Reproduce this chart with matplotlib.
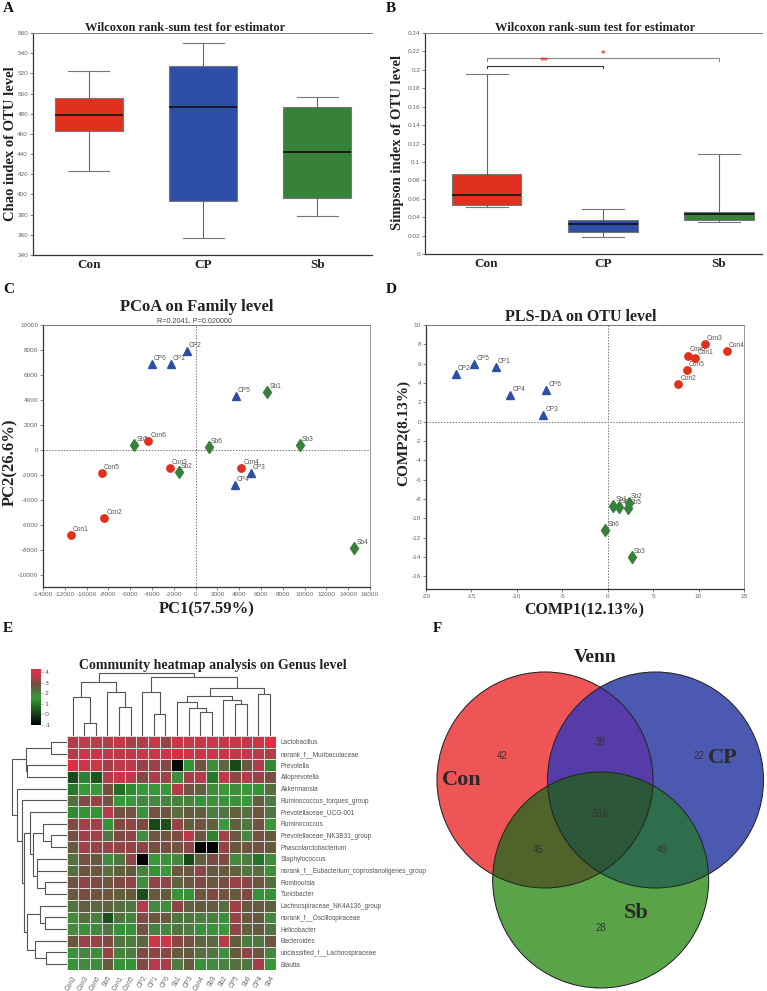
import numpy as np
import matplotlib
matplotlib.use('Agg')
import matplotlib.pyplot as plt
from matplotlib.colors import LinearSegmentedColormap, to_rgba
from matplotlib.patches import Circle
from matplotlib.ticker import MultipleLocator, FuncFormatter

plt.rcParams['axes.unicode_minus'] = False

W, H = 767, 991
SERIF = 'Liberation Serif'
SANS = 'Liberation Sans'
TICK_C = '#666666'

# ---------------- data ----------------
groups = ['Con', 'CP', 'Sb']
group_colors = ['#e2301f', '#2f4ea6', '#37813a']

# A: Chao index boxplot stats
chao_lo = [423.7, 356.9, 378.4]
chao_q1 = [462.7, 394.0, 396.6]
chao_med = [478.3, 486.2, 441.6]
chao_q3 = [495.2, 527.3, 486.2]
chao_hi = [522.6, 550.4, 496.8]

# B: Simpson index boxplot stats
simp_lo = [0.0509, 0.0182, 0.0349]
simp_q1 = [0.0535, 0.0240, 0.0367]
simp_med = [0.0644, 0.0327, 0.0436]
simp_q3 = [0.0873, 0.0364, 0.0455]
simp_hi = [0.1960, 0.0490, 0.1087]
sig_i = [0, 0]
sig_j = [1, 2]
sig_y = [0.2047, 0.2124]
sig_txt = ['**', '*']

# C: PCoA (family level)
pcoa_con_x = [-11470, -8380, -2385, 4190, -8620, -4340]
pcoa_con_y = [-6835, -5480, -1490, -1490, -1835, 690]
pcoa_cp_x = [-2260, -800, 5046, 3610, 3700, -4000]
pcoa_cp_y = [6890, 7900, -1835, -2820, 4280, 6900]
pcoa_sb_x = [6575, -1530, 9570, 14560, -5630, 1220]
pcoa_sb_y = [4630, -1780, 350, -7850, 370, 210]

# D: PLS-DA (OTU level)
pls_con_x = [9.63, 7.77, 10.7, 13.1, 8.68, 8.80]
pls_con_y = [6.56, 3.94, 8.05, 7.29, 5.32, 6.84]
pls_cp_x = [-12.3, -16.7, -7.07, -10.7, -14.7, -6.78]
pls_cp_y = [5.66, 4.97, 0.73, 2.73, 6.00, 3.25]
pls_sb_x = [0.62, 2.34, 2.67, 1.20, 2.23, -0.26]
pls_sb_y = [-8.67, -8.36, -13.98, -8.84, -8.90, -11.19]

# E: heatmap
samples = ['Con2', 'Con3', 'Con6', 'Sb5', 'Con1', 'Con5', 'CP2', 'CP1', 'CP6',
           'Sb1', 'CP3', 'Con4', 'Sb3', 'Sb2', 'CP5', 'Sb6', 'CP4', 'Sb4']
genera = ['Lactobacillus', 'norank_f__Muribaculaceae', 'Prevotella', 'Alloprevotella',
          'Akkermansia', 'Ruminococcus_torques_group', 'Prevotellaceae_UCG-001',
          'Ruminococcus', 'Prevotellaceae_NK3B31_group', 'Phascolarctobacterium',
          'Staphylococcus', 'norank_f__Eubacterium_coprostanoligenes_group', 'Romboutsia',
          'Turicibacter', 'Lachnospiraceae_NK4A136_group', 'norank_f__Oscillospiraceae',
          'Helicobacter', 'Bacteroides', 'unclassified_f__Lachnospiraceae', 'Blautia']
heat_values = [
    [3.5, 3.7, 3.6, 3.5, 3.7, 3.4, 3.5, 3.7, 3.2, 3.8, 3.7, 3.8, 3.8, 3.7, 3.7, 3.7, 3.8, 4.1],
    [3.5, 3.8, 3.8, 3.6, 3.6, 3.6, 3.8, 3.8, 3.8, 3.9, 3.8, 3.8, 3.8, 3.8, 3.6, 3.7, 3.6, 3.5],
    [4.1, 3.8, 3.8, 3.3, 3.6, 3.6, 3.2, 3.2, 3.0, -0.8, 1.5, 2.8, 1.8, 2.4, 0.2, 2.6, 3.4, 1.3],
    [0.2, 1.2, 0.4, 3.5, 3.8, 3.6, 3.0, 3.4, 3.3, 1.8, 3.3, 3.5, 1.0, 3.7, 3.1, 3.5, 3.2, 2.9],
    [1.0, 1.6, 1.6, 2.9, 0.8, 1.3, 1.6, 1.6, 1.6, 3.5, 2.8, 2.5, 1.8, 1.6, 1.8, 1.6, 1.5, 2.3],
    [2.3, 3.0, 3.2, 2.8, 1.6, 1.6, 1.9, 1.8, 2.0, 2.0, 2.0, 1.5, 1.7, 1.7, 1.7, 1.6, 2.5, 2.1],
    [1.3, 1.5, 1.5, 3.5, 2.8, 2.8, 1.7, 2.8, 2.7, 2.3, 2.6, 2.5, 2.1, 2.2, 2.5, 2.3, 2.7, 2.2],
    [3.0, 3.3, 3.3, 1.5, 3.0, 3.1, 3.0, 0.2, 0.3, 3.2, 2.5, 2.8, 2.5, 1.6, 2.5, 2.2, 2.8, 1.6],
    [2.9, 3.3, 3.3, 2.2, 3.0, 3.1, 1.8, 2.7, 2.7, 3.0, 3.6, 2.7, 1.2, 3.3, 2.7, 1.9, 2.8, 2.6],
    [2.6, 3.3, 3.2, 3.2, 3.1, 3.2, 3.1, 2.9, 2.9, 2.8, 3.1, -1.0, -1.0, 3.2, 2.7, 2.7, 2.8, 2.6],
    [2.3, 2.8, 2.6, 1.8, 2.2, 3.1, -1.0, 1.6, 1.7, 1.9, 0.2, 2.5, 2.9, 3.0, 1.9, 2.1, 0.9, 1.8],
    [2.3, 2.7, 2.7, 2.3, 2.5, 2.6, 2.0, 1.5, 1.6, 2.7, 2.7, 3.1, 2.6, 2.6, 2.5, 2.2, 2.3, 1.7],
    [2.8, 3.1, 3.0, 2.7, 3.0, 3.1, 1.8, 3.1, 3.1, 2.4, 2.7, 3.0, 2.7, 2.9, 3.2, 3.1, 2.7, 2.3],
    [2.6, 2.9, 2.8, 2.7, 2.5, 2.6, 0.3, 2.6, 2.6, 1.7, 1.5, 2.7, 3.0, 2.8, 2.6, 3.0, 1.5, 1.5],
    [2.2, 2.5, 2.4, 2.5, 2.3, 2.2, 3.5, 1.9, 1.8, 3.1, 2.5, 2.6, 2.6, 2.3, 3.3, 2.6, 2.6, 2.5],
    [1.8, 2.3, 2.1, 0.3, 2.2, 2.0, 3.0, 2.7, 2.6, 2.2, 2.2, 2.1, 2.1, 1.5, 3.2, 2.6, 2.6, 1.9],
    [1.8, 1.7, 1.9, 2.2, 1.5, 1.5, 2.8, 2.0, 1.9, 2.2, 2.1, 1.5, 1.7, 1.6, 3.1, 2.5, 2.6, 2.2],
    [2.7, 3.2, 3.2, 3.0, 2.2, 2.1, 2.4, 3.8, 3.8, 3.1, 2.8, 2.4, 2.4, 3.5, 2.6, 2.1, 2.2, 2.8],
    [1.7, 2.0, 1.8, 3.2, 2.0, 2.1, 3.0, 3.1, 3.1, 2.6, 2.6, 2.3, 2.2, 1.7, 2.6, 3.1, 2.7, 1.9],
    [1.7, 1.9, 1.8, 2.6, 1.5, 1.5, 3.0, 3.5, 3.3, 2.1, 2.6, 1.5, 1.9, 2.0, 2.3, 2.2, 3.3, 1.6],
]
# dendrograms: (merge height, left, right); ints are leaf indices
col_tree = (188,
            (163, (118, 0, (40, 1, 2)), (133, 3, (86, 4, 5))),
            (176, (133, 6, (65, 7, 8)),
             (145, (120, (103, 9, (83, 10, (73, 11, 12))), (108, 13, (96, 14, 15))),
              (125, 16, 17))))
row_tree = (165,
            (122, (47, 0, 1), (118, 2, 3)),
            (148, 4, (135, 5, (128,
                                (110, 6, (100, (70, 7, (47, 8, 9)), (90, (88, 10, 11), (64, 12, 13)))),
                                (120, (80, 14, (64, 15, 16)), (95, 17, (62, 18, 19)))))))

# F: Venn
venn_sets = ['Con', 'CP', 'Sb']
venn_codes = [1, 2, 4, 3, 5, 6, 7]
venn_counts = [42, 22, 28, 38, 45, 49, 516]


# ---------------- helpers ----------------
fig = plt.figure(figsize=(W / 100, H / 100), dpi=100)


def add_ax(l, t, r, b):
    return fig.add_axes([l / W, 1 - b / H, (r - l) / W, (b - t) / H])


def ftext(x, y, s, **kw):
    fig.text(x / W, 1 - y / H, s, **kw)


def style_axes(ax, full_box=False):
    for side in ['left', 'bottom']:
        ax.spines[side].set_color('#333333')
        ax.spines[side].set_linewidth(0.9)
    ax.spines['top'].set_color('#777777')
    ax.spines['top'].set_linewidth(0.7)
    ax.spines['right'].set_visible(full_box)
    ax.spines['right'].set_color('#999999')
    ax.spines['right'].set_linewidth(0.7)
    ax.tick_params(direction='out', length=2, width=0.5, color='#555555',
                   labelsize=4.6, labelcolor=TICK_C, pad=1.5)
    for lab in ax.get_xticklabels() + ax.get_yticklabels():
        lab.set_family(SANS)


def boxpanel(ax, lo, q1, med, q3, hi):
    stats = [dict(med=med[k], q1=q1[k], q3=q3[k], whislo=lo[k], whishi=hi[k], fliers=[])
             for k in range(len(groups))]
    bp = ax.bxp(stats, positions=[1, 2, 3], widths=0.6, capwidths=0.36, patch_artist=True,
                showfliers=False,
                boxprops=dict(edgecolor='#777777', linewidth=0.8),
                medianprops=dict(color='#111111', linewidth=1.2),
                whiskerprops=dict(color='#666666', linewidth=0.8),
                capprops=dict(color='#777777', linewidth=0.8))
    for patch, c in zip(bp['boxes'], group_colors):
        patch.set_facecolor(c)
    ax.set_xticks([1, 2, 3])
    ax.set_xticklabels(groups)
    style_axes(ax)
    for lab in ax.get_xticklabels():
        lab.set_family(SERIF)
        lab.set_fontweight('bold')
        lab.set_fontsize(9.5)
        lab.set_color('#222222')
    ax.tick_params(axis='x', length=0, pad=3)


# ---------------- A ----------------
axA = add_ax(33, 33, 372, 255)
boxpanel(axA, chao_lo, chao_q1, chao_med, chao_q3, chao_hi)
axA.set_xlim(0.51, 3.48)
axA.set_ylim(340, 560)
axA.yaxis.set_major_locator(MultipleLocator(20))
for lab in axA.get_yticklabels():
    lab.set_family(SANS)
ftext(185, 28, 'Wilcoxon rank-sum test for estimator', family=SERIF, weight='bold',
      fontsize=9, ha='center', va='center', color='#222222')
ftext(11, 144, 'Chao index of OTU level', family=SERIF, weight='bold', fontsize=10.5,
      rotation=90, ha='center', va='center', color='#222222')

# ---------------- B ----------------
axB = add_ax(425, 33, 762, 254)
boxpanel(axB, simp_lo, simp_q1, simp_med, simp_q3, simp_hi)
axB.set_xlim(0.47, 3.37)
axB.set_ylim(0, 0.24)
axB.yaxis.set_major_locator(MultipleLocator(0.02))
axB.yaxis.set_major_formatter(FuncFormatter(lambda v, p: '%g' % round(v, 2)))
for lab in axB.get_yticklabels():
    lab.set_family(SANS)
for i, j, yv, s, lc in zip(sig_i, sig_j, sig_y, sig_txt, ['#333333', '#888888']):
    axB.plot([i + 1, i + 1, j + 1, j + 1], [yv - 0.003, yv, yv, yv - 0.003], color=lc, lw=0.8)
    axB.text((i + j) / 2 + 1, yv - 0.001, s, color='#ee3333', fontsize=6, ha='center',
             va='bottom', weight='bold')
ftext(595, 28, 'Wilcoxon rank-sum test for estimator', family=SERIF, weight='bold',
      fontsize=9, ha='center', va='center', color='#222222')
ftext(397, 142, 'Simpson index of OTU level', family=SERIF, weight='bold', fontsize=10.5,
      rotation=90, ha='center', va='center', color='#222222')


# ---------------- scatter panels ----------------
def scatter_panel(ax, xs, ys):
    markers = ['o', '^', 'd']
    sizes = [5.3, 6.3, 6.0]
    for g, c, m, ms, x, y in zip(groups, group_colors, markers, sizes, xs, ys):
        ax.plot(x, y, ls='none', marker=m, ms=ms, color=c, mec=c, zorder=3)
        for k in range(len(x)):
            ax.annotate('%s%d' % (g, k + 1), (x[k], y[k]), xytext=(1.5, 1.5),
                        textcoords='offset points', fontsize=4.8, color='#555555',
                        family=SANS, ha='left', va='bottom', zorder=2)
    ax.axhline(0, color='#777777', lw=0.7, ls=(0, (1.5, 1.5)), zorder=1)
    ax.axvline(0, color='#777777', lw=0.7, ls=(0, (1.5, 1.5)), zorder=1)
    style_axes(ax, full_box=True)


axC = add_ax(43, 325, 370, 587)
scatter_panel(axC, [pcoa_con_x, pcoa_cp_x, pcoa_sb_x], [pcoa_con_y, pcoa_cp_y, pcoa_sb_y])
axC.set_xlim(-14000, 16000)
axC.set_ylim(-11000, 10000)
axC.xaxis.set_major_locator(MultipleLocator(2000))
axC.yaxis.set_major_locator(MultipleLocator(2000))
for lab in axC.get_xticklabels() + axC.get_yticklabels():
    lab.set_family(SANS)
ftext(197, 307, 'PCoA on Family level', family=SERIF, weight='bold', fontsize=12,
      ha='center', va='center', color='#222222')
ftext(194, 321, 'R=0.2041, P=0.020000', family=SANS, fontsize=5.2, ha='center',
      va='center', color='#444444')
ftext(207, 609, 'PC1(57.59%)', family=SERIF, weight='bold', fontsize=12,
      ha='center', va='center', color='#222222')
ftext(10, 462, 'PC2(26.6%)', family=SERIF, weight='bold', fontsize=12, rotation=90,
      ha='center', va='center', color='#222222')

axD = add_ax(426, 325, 744, 589)
scatter_panel(axD, [pls_con_x, pls_cp_x, pls_sb_x], [pls_con_y, pls_cp_y, pls_sb_y])
axD.set_xlim(-20, 15)
axD.set_ylim(-17.3, 10)
axD.xaxis.set_major_locator(MultipleLocator(5))
axD.yaxis.set_major_locator(MultipleLocator(2))
for lab in axD.get_xticklabels() + axD.get_yticklabels():
    lab.set_family(SANS)
ftext(581, 317, 'PLS-DA on OTU level', family=SERIF, weight='bold', fontsize=11.5,
      ha='center', va='center', color='#222222')
ftext(584, 610, 'COMP1(12.13%)', family=SERIF, weight='bold', fontsize=11.5,
      ha='center', va='center', color='#222222')
ftext(404, 433, 'COMP2(8.13%)', family=SERIF, weight='bold', fontsize=11, rotation=90,
      ha='center', va='center', color='#222222')

# ---------------- E: heatmap ----------------
cmap = LinearSegmentedColormap.from_list('heat', [
    (0.0, '#000000'), (1 / 5.3, '#163c16'), (1.8 / 5.3, '#246e24'), (2.6 / 5.3, '#38983a'),
    (3.1 / 5.3, '#4c7c40'), (3.6 / 5.3, '#665a3e'), (4.0 / 5.3, '#7e4a42'),
    (4.3 / 5.3, '#a2404a'), (4.7 / 5.3, '#c4384a'), (1.0, '#ee2a40')])

axE = add_ax(66.7, 736, 275.7, 970)
mesh = axE.pcolormesh(np.array(heat_values), cmap=cmap, vmin=-1, vmax=4.3,
                      edgecolors='#dcdcdc', linewidth=0.4)
axE.set_xlim(0, len(samples))
axE.set_ylim(len(genera), 0)
for s in axE.spines.values():
    s.set_visible(False)
axE.yaxis.set_ticks_position('right')
axE.set_yticks(np.arange(len(genera)) + 0.5)
axE.set_yticklabels(genera, fontsize=4.7, color='#555555', family=SANS)
axE.set_xticks(np.arange(len(samples)) + 0.5)
axE.set_xticklabels(samples, fontsize=4.7, color='#666666', family=SANS, rotation=60,
                    ha='right', rotation_mode='anchor')
axE.tick_params(length=0, pad=3.5)


def draw_tree(ax, node, horizontal):
    if isinstance(node, int):
        return node + 0.5, 0
    h, left, right = node
    p1, h1 = draw_tree(ax, left, horizontal)
    p2, h2 = draw_tree(ax, right, horizontal)
    pos = [p1, p1, p2, p2]
    hts = [h1, h, h, h2]
    if horizontal:
        ax.plot(hts, pos, color='#555555', lw=0.8, solid_capstyle='butt')
    else:
        ax.plot(pos, hts, color='#555555', lw=0.8, solid_capstyle='butt')
    return (p1 + p2) / 2, h


axCol = add_ax(66.7, 672, 275.7, 736)
draw_tree(axCol, col_tree, False)
axCol.set_xlim(0, len(samples))
axCol.set_ylim(0, 192)
axCol.axis('off')

axRow = add_ax(10, 736, 66.7, 970)
draw_tree(axRow, row_tree, True)
axRow.set_ylim(len(genera), 0)
axRow.set_xlim(170, 0)
axRow.axis('off')

cax = add_ax(31, 669, 41, 725)
cb = fig.colorbar(mesh, cax=cax, ticks=[-1, 0, 1, 2, 3, 4])
cb.outline.set_visible(False)
cax.tick_params(labelsize=4.6, length=1.5, width=0.4, color='#777777',
                labelcolor='#555555', pad=1)
ftext(213, 665, 'Community heatmap analysis on Genus level', family=SERIF, weight='bold',
      fontsize=10, ha='center', va='center', color='#222222')

# ---------------- F: Venn ----------------
axF = add_ax(420, 640, 767, 991)
axF.axis('off')
centers = [(545.0, 780.0), (655.5, 780.0), (600.7, 880.0)]
radius = 108.0
region_colors = {1: '#ef5456', 2: '#4b5ab0', 4: '#59a549', 3: '#563ca8',
                 5: '#4e642a', 6: '#2e6e4c', 7: '#2c583a'}
gx, gy = np.meshgrid(np.arange(420, 767, 0.5) + 0.25, np.arange(640, 991, 0.5) + 0.25)
code = np.zeros(gx.shape, dtype=int)
for k, (cx, cy) in enumerate(centers):
    code += ((gx - cx) ** 2 + (gy - cy) ** 2 <= radius ** 2).astype(int) << k
img = np.zeros(gx.shape + (4,))
for c, col in region_colors.items():
    img[code == c] = to_rgba(col)
axF.imshow(img, extent=(420, 767, 991, 640), origin='upper', interpolation='antialiased')
axF.set_xlim(420, 767)
axF.set_ylim(991, 640)
for cx, cy in centers:
    axF.add_patch(Circle((cx, cy), radius, fill=False, ec='#222222', lw=0.7))
for c, n in zip(venn_codes, venn_counts):
    m = code == c
    axF.text(gx[m].mean(), gy[m].mean(), str(n), fontsize=7, color='#333333',
             family=SANS, ha='center', va='center')
name_offsets = [(-83, 0), (67, -22), (35, 33)]
for name, (cx, cy), (dx, dy) in zip(venn_sets, centers, name_offsets):
    axF.text(cx + dx, cy + dy, name, family=SERIF, weight='bold', fontsize=16,
             color='#2a2a2a', ha='center', va='center')
ftext(595, 657, 'Venn', family=SERIF, weight='bold', fontsize=14, ha='center',
      va='center', color='#222222')

# ---------------- panel letters ----------------
for letter, x, y in [('A', 3, 8), ('B', 386, 8), ('C', 3, 289), ('D', 386, 289),
                     ('E', 3, 629), ('F', 433, 629)]:
    ftext(x, y, letter, family=SERIF, weight='bold', fontsize=11, ha='left',
          va='center', color='#111111')

fig.savefig('out.png', dpi=100)
